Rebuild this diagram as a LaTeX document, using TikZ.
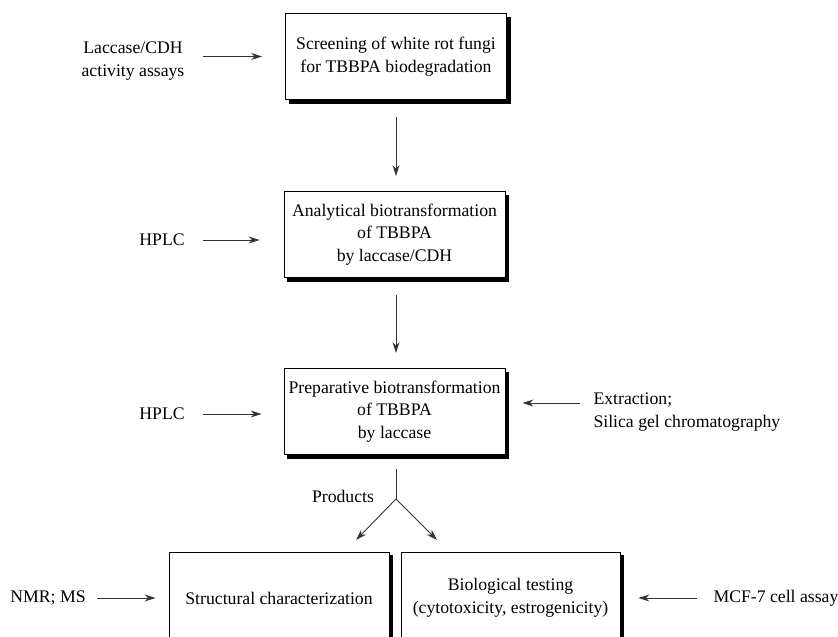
\documentclass[tikz,border=0pt]{standalone}
\usepackage{fontspec}
\setmainfont{Liberation Serif}
\usetikzlibrary{arrows.meta}

\begin{document}
\begin{tikzpicture}[x=1bp,y=-1bp,
  every node/.style={font=\fontsize{17.7bp}{22.5bp}\selectfont},
  stage/.style={draw,line width=0.9bp,fill=white,align=center,inner sep=2bp,
    minimum width=221bp,minimum height=86bp},
  flow/.style={-{Stealth[length=11bp,width=7bp]},line width=0.9bp,black!80}]
\useasboundingbox (0,0) rectangle (838,637);
% main stages
\node[stage] (screen) at (396,56.5) {Screening of white rot fungi\\for TBBPA biodegradation};
\node[stage] (anal) at (394.5,234.5) {Analytical biotransformation\\of TBBPA\\by laccase/CDH};
\node[stage] (prep) at (394.5,411.5) {Preparative biotransformation\\of TBBPA\\by laccase};
\node[stage,minimum width=220bp,minimum height=92bp] (struct) at (279,598) {Structural characterization};
\node[stage,minimum width=219bp,minimum height=92bp] (bio) at (510.5,598) {Biological testing\\(cytotoxicity, estrogenicity)};
% shadow bands on the right and lower edges
\foreach \bx in {screen,anal,prep,struct,bio}{
\fill[black] ([xshift=0.4bp,yshift=-3.5bp]\bx.north east) rectangle ([xshift=3.8bp,yshift=-3.8bp]\bx.south east);
\fill[black] ([xshift=3.5bp,yshift=-0.4bp]\bx.south west) rectangle ([xshift=3.8bp,yshift=-3.8bp]\bx.south east);
}
% methods
\node[align=center] (assay) at (133,61) {Laccase/CDH\\activity assays};
\node (hplca) at (162,240) {HPLC};
\node (hplcb) at (162,414) {HPLC};
\node (nmr) at (48,598) {NMR; MS};
\node[anchor=west] (mcf) at (710,598) {MCF-7 cell assay};
\node[anchor=west,align=left] (extr) at (590,412) {Extraction;\\Silica gel chromatography};
\node (prod) at (343,496) {Products};
\coordinate (split) at (396,499);
\coordinate (toleft) at (356,540);
\coordinate (toright) at (437,540);
% connectors
\draw[flow,shorten <=15bp,shorten >=23bp] (assay.east |- screen) -- (screen);
\draw[flow,shorten <=15bp,shorten >=24bp] (hplca) -- (anal.west |- hplca);
\draw[flow,shorten <=15bp,shorten >=22bp] (hplcb) -- (prep.west |- hplcb);
\draw[flow,shorten <=8bp,shorten >=13bp] (nmr) -- (struct);
\draw[flow,shorten <=13bp,shorten >=18bp] (mcf.west) -- (bio.east |- mcf.west);
\draw[flow,shorten <=10bp,shorten >=17bp] ([yshift=9bp]extr.west) -- ([yshift=9bp]extr.west -| prep.east);
\draw[flow,shorten <=17bp,shorten >=15bp] (screen.south -| split) -- (anal.north -| split);
\draw[flow,shorten <=17bp,shorten >=15bp] (anal.south -| split) -- (prep.north -| split);
\draw[line width=0.9bp,black!80,shorten <=14bp] (prep.south -| split) -- (split);
\draw[flow] (split) -- (toleft);
\draw[flow] (split) -- (toright);
\end{tikzpicture}
\end{document}
